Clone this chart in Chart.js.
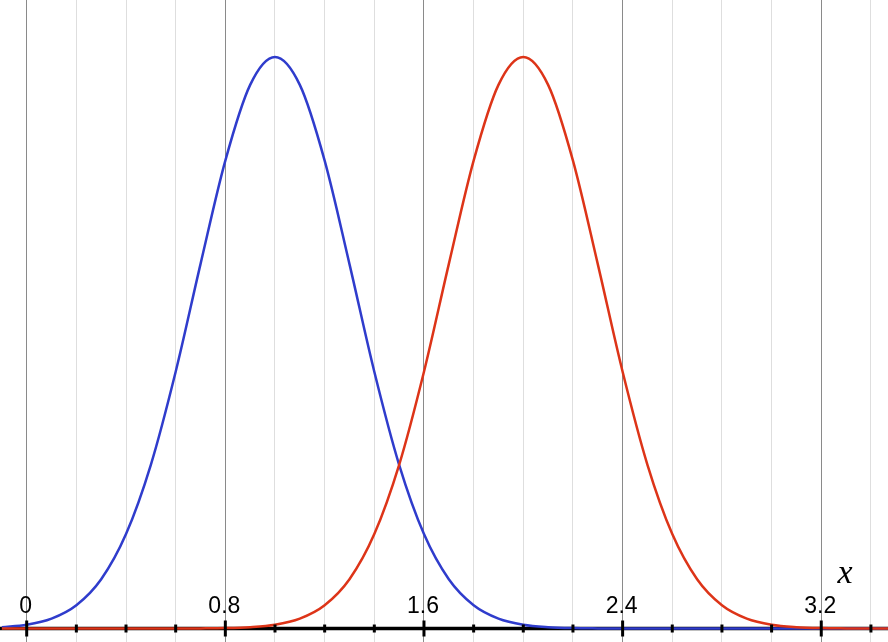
<!DOCTYPE html>
<html>
<head>
<meta charset="utf-8">
<script src="https://cdn.jsdelivr.net/npm/chart.js@4/dist/chart.umd.min.js"></script>
<style>
  html, body { margin: 0; padding: 0; background: #fff; }
  #chart { display: block; }
</style>
</head>
<body>
<canvas id="chart" width="888" height="642"></canvas>
<script>
// values, x every 0.1
const xValues = [-0.1, 0.0, 0.1, 0.2, 0.3, 0.4, 0.5, 0.6, 0.7, 0.8, 0.9,
    1.0, 1.1, 1.2, 1.3, 1.4, 1.5, 1.6, 1.7, 1.8, 1.9,
    2.0, 2.1, 2.2, 2.3, 2.4, 2.5, 2.6, 2.7, 2.8, 2.9,
    3.0, 3.1, 3.2, 3.3, 3.4, 3.5];
const blueValues = [0.0024, 0.0067, 0.0174, 0.0408, 0.0863, 0.1653, 0.2865, 0.4493, 0.6376, 0.8187, 0.9512,
    1.0, 0.9512, 0.8187, 0.6376, 0.4493, 0.2865, 0.1653, 0.0863, 0.0408, 0.0174,
    0.0067, 0.0024, 0.0007, 0.0002, 0, 0, 0, 0, 0, 0,
    0, 0, 0, 0, 0, 0];
const redValues = [0, 0, 0, 0, 0, 0, 0, 0, 0.0002, 0.0007, 0.0024,
    0.0067, 0.0174, 0.0408, 0.0863, 0.1653, 0.2865, 0.4493, 0.6376, 0.8187, 0.9512,
    1.0, 0.9512, 0.8187, 0.6376, 0.4493, 0.2865, 0.1653, 0.0863, 0.0408, 0.0174,
    0.0067, 0.0024, 0.0007, 0.0002, 0, 0];

const tickValues = [0, 0.8, 1.6, 2.4, 3.2];
const tickLabels = ['0', '0.8', '1.6', '2.4', '3.2'];
const axisTitle = 'x';

const BLUE = '#2f3ccc';
const RED = '#dd3418';

function isMajor(v) {
    const r = v / 0.8;
    return Math.abs(r - Math.round(r)) < 1e-6;
}

// axis line under the curves, tick marks and labels on top
const axisPlugin = {
    id: 'axisPlugin',
    beforeDatasetsDraw(chart) {
        const ctx = chart.ctx;
        const y0 = chart.scales.y.getPixelForValue(0);
        ctx.save();
        ctx.strokeStyle = '#000';
        ctx.lineWidth = 3.5;
        ctx.beginPath();
        ctx.moveTo(0, y0);
        ctx.lineTo(chart.width, y0);
        ctx.stroke();
        ctx.restore();
    },
    afterDatasetsDraw(chart) {
        const ctx = chart.ctx;
        const xs = chart.scales.x;
        const y0 = chart.scales.y.getPixelForValue(0);
        ctx.save();
        ctx.strokeStyle = '#000';
        ctx.lineWidth = 3;
        for (let i = 0; i <= 17; i++) {
            const v = i * 0.2;
            const px = xs.getPixelForValue(v);
            const major = isMajor(v);
            ctx.beginPath();
            ctx.moveTo(px, y0 - (major ? 8 : 4));
            ctx.lineTo(px, y0 + (major ? 8 : 4));
            ctx.stroke();
        }
        ctx.fillStyle = '#000';
        ctx.font = '23px "Liberation Sans", Arial, sans-serif';
        ctx.textAlign = 'center';
        ctx.textBaseline = 'alphabetic';
        tickValues.forEach((v, i) => {
            ctx.fillText(tickLabels[i], xs.getPixelForValue(v) - 1, y0 - 16);
        });
        ctx.font = 'italic 34px "Liberation Serif", "Times New Roman", serif';
        ctx.fillText(axisTitle, xs.getPixelForValue(3.3) - 1, y0 - 46);
        ctx.restore();
    }
};

const ctx = document.getElementById('chart').getContext('2d');
new Chart(ctx, {
    type: 'line',
    data: {
        datasets: [
            {
                label: 'red',
                data: xValues.map((x, i) => ({ x: x, y: redValues[i] })),
                borderColor: RED,
                borderWidth: 2.5,
                pointRadius: 0,
                fill: false,
                cubicInterpolationMode: 'monotone',
                order: 1
            },
            {
                label: 'blue',
                data: xValues.map((x, i) => ({ x: x, y: blueValues[i] })),
                borderColor: BLUE,
                borderWidth: 2.5,
                pointRadius: 0,
                fill: false,
                cubicInterpolationMode: 'monotone',
                order: 2
            }
        ]
    },
    options: {
        responsive: false,
        animation: false,
        layout: { padding: 0 },
        plugins: {
            legend: { display: false },
            tooltip: { enabled: false }
        },
        scales: {
            x: {
                type: 'linear',
                min: -0.1075,
                max: 3.4688,
                display: true,
                ticks: { display: false, stepSize: 0.2, includeBounds: false },
                grid: {
                    drawTicks: false,
                    lineWidth: 1,
                    color: (c) => (c.tick && isMajor(c.tick.value)) ? '#8a8a8a' : '#dedede'
                },
                border: { display: false }
            },
            y: {
                type: 'linear',
                min: -0.0236,
                max: 1.0997,
                display: false
            }
        }
    },
    plugins: [axisPlugin]
});
</script>
</body>
</html>
